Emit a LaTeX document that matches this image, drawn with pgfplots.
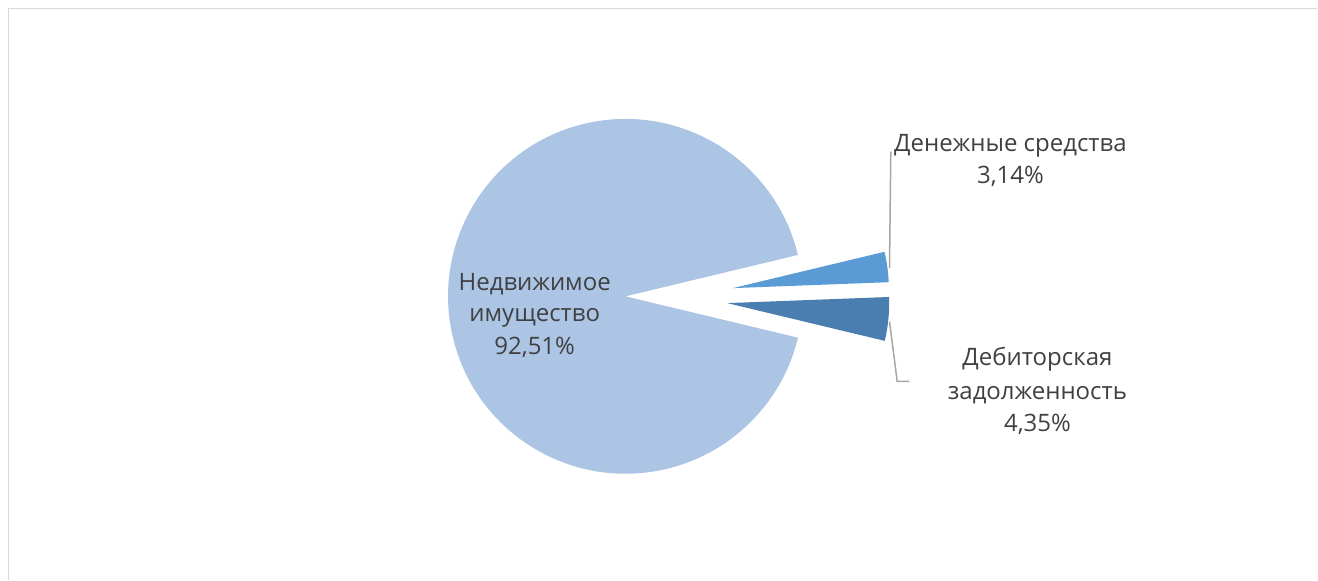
\documentclass[border=0pt]{standalone}
\usepackage{pgfplots}
\pgfplotsset{compat=1.18}
\usepackage{pgfplotstable}
\usepackage{fontspec}
\setmainfont{Open Sans}

\definecolor{sliceBig}{HTML}{ADC5E5}
\definecolor{sliceCash}{HTML}{5B9BD5}
\definecolor{sliceDebt}{HTML}{4A7EB1}
\definecolor{txt}{HTML}{404040}
\definecolor{leader}{HTML}{A6A6A6}
\definecolor{frame}{HTML}{D9D9D9}

\tikzset{lbl/.style={text=txt, font=\fontsize{24bp}{32bp}\selectfont, anchor=base, inner sep=0pt}}

% shares, per cent
\pgfplotstableread{
part value
debt 4.35
cash 3.14
property 92.51
}\piedata

\begin{document}
\begin{tikzpicture}
\pgfplotstablegetelem{0}{value}\of\piedata \let\vDebt\pgfplotsretval
\pgfplotstablegetelem{1}{value}\of\piedata \let\vCash\pgfplotsretval
\pgfplotstablegetelem{2}{value}\of\piedata \let\vProp\pgfplotsretval
% angles: big slice centred on the left, small ones on the right
\pgfmathsetmacro\aS{-(\vDebt+\vCash)*1.8}
\pgfmathsetmacro\aA{\aS+\vDebt*3.6}
\pgfmathsetmacro\aB{\aA+\vCash*3.6}
\pgfmathsetmacro\aE{\aB+\vProp*3.6}
\begin{axis}[
    width=1318bp, height=580bp, scale only axis,
    xmin=0, xmax=1318, ymin=0, ymax=580,
    hide axis, clip=false,
]
\path (axis cs:0,0) rectangle (axis cs:1318,580);
\draw[frame, line width=1.5bp] (axis cs:8.5,0) -- (axis cs:8.5,571.5) -- (axis cs:1318,571.5);

% slices
\fill[sliceBig] (axis cs:625.8,283.5) -- ++(\aB:177.5bp)
    arc[start angle=\aB, end angle=\aE, radius=177.5bp] -- cycle;
\fill[sliceDebt] (axis cs:727.7,276.7) -- ++(\aS:162bp)
    arc[start angle=\aS, end angle=\aA, radius=162bp] -- cycle;
\fill[sliceCash] (axis cs:733.3,291.7) -- ++(\aA:156bp)
    arc[start angle=\aA, end angle=\aB, radius=156bp] -- cycle;

% leader lines
\draw[leader, line width=1.5bp] (axis cs:891.3,428.3) -- (axis cs:890,312);
\draw[leader, line width=1.5bp] (axis cs:890,258.3) -- (axis cs:897.7,198.3) -- (axis cs:910,198.3);

% labels
\node[lbl] at (axis cs:535,289.3) {Недвижимое};
\node[lbl] at (axis cs:535,258.3) {имущество};
\node[lbl] at (axis cs:535,225) {92,51\%};
\node[lbl] at (axis cs:1011,428.3) {Денежные средства};
\node[lbl] at (axis cs:1011,396) {3,14\%};
\node[lbl] at (axis cs:1038,214) {Дебиторская};
\node[lbl] at (axis cs:1038,180.7) {задолженность};
\node[lbl] at (axis cs:1038,148.3) {4,35\%};
\end{axis}
\end{tikzpicture}
\end{document}
